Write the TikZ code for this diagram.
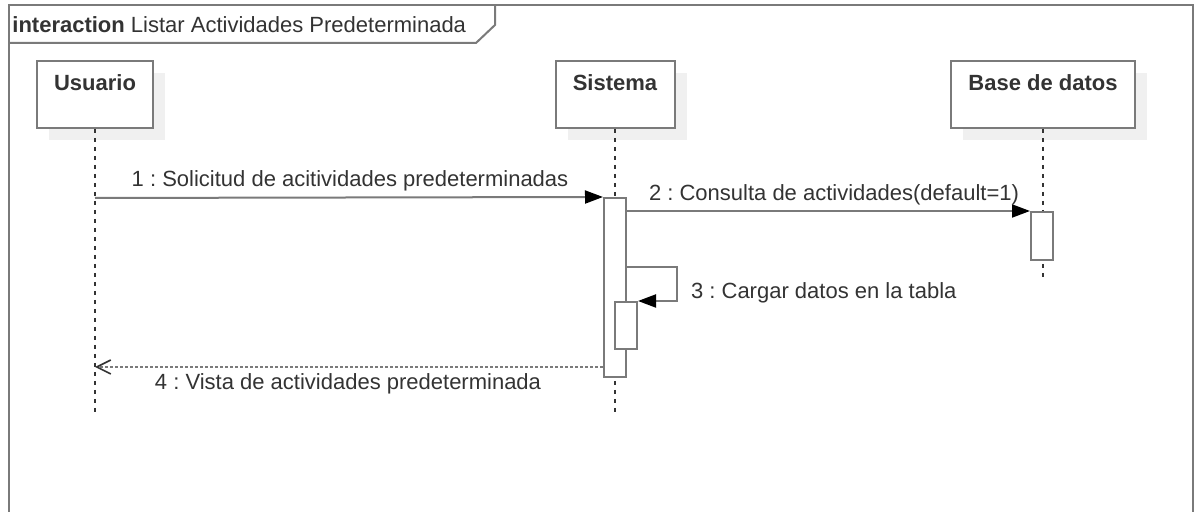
\documentclass[tikz,border=0pt]{standalone}
\usepackage{fontspec}
\setmainfont{Liberation Sans}
\usetikzlibrary{positioning, arrows.meta, shadows}
\frenchspacing

\definecolor{linegray}{HTML}{7A7A7A}
\definecolor{textgray}{HTML}{333333}
\definecolor{shadowgray}{HTML}{F0F0F0}

\begin{document}
\begin{tikzpicture}[
					x=0.5pt, y=-0.5pt,
					font=\fontsize{11}{13}\selectfont,
					every node/.style={text=textgray},
					lifehead/.style={draw=linegray, line width=1pt, fill=white, inner sep=0pt,
						minimum width=#1, text height=15pt, text depth=18.5pt, font=\fontsize{11}{13}\selectfont\bfseries,
						drop shadow={shadow xshift=6pt, shadow yshift=-6pt, fill=shadowgray, opacity=1}},
					act/.style={draw=linegray, line width=1pt, fill=white, inner sep=0pt, minimum width=11pt},
					lifeline/.style={draw=black!80, line width=0.7pt, dash pattern=on 2pt off 2.5pt},
					msg/.style={draw=linegray, line width=1pt, -{Triangle[length=9pt, width=6.5pt, fill=black, color=black]}},
					reply/.style={draw=linegray, line width=1pt, dash pattern=on 1.5pt off 1pt, -{Straight Barb[length=7pt, width=7pt, color=black!80, line width=0.8pt]}}
					]
					\useasboundingbox (0,0) rectangle (1196,512);
					
					% Frame
					\draw[linegray, line width=1pt] (9,512) -- (9,5) -- (1193,5) -- (1193,512);
					\draw[linegray, line width=1pt] (9,43) -- (476,43) -- (495,25) -- (495,5);
					\node[anchor=west, inner sep=0pt] (title) at (12,25) {\textbf{interaction} Listar Actividades Predeterminada};
					
					% Lifelines
					\node[lifehead=58pt] (Usuario) at (95,94.5) {Usuario};
					\node[lifehead=59.5pt] (Sistema) at (615,94.5) {Sistema};
					\node[lifehead=92pt] (BaseDatos) at (1043,94.5) {Base de datos};
					\coordinate (UsuarioEnd) at (95,415);
					\coordinate (SistemaEnd) at (615,415);
					\coordinate (BaseDatosEnd) at (1043,280);
					\draw[lifeline] (Usuario.south) -- (UsuarioEnd);
					\draw[lifeline] (Sistema.south) -- (SistemaEnd);
					\draw[lifeline] (BaseDatos.south) -- (BaseDatosEnd);
					
					% Activations
					\node[act, minimum height=89.5pt] (SistemaAct) at (615,287.5) {};
					\node[act, minimum height=24pt] (BaseDatosAct) at (1042,236) {};
					\node[act, minimum height=23.5pt] (CargarAct) at (626,325.5) {};
					
					% Messages
					\coordinate (m1) at (95,198);
					\coordinate (m3a) at (677,267);
					\coordinate (m4) at (95,367);
					\draw[msg] (m1) -- (SistemaAct.north west);
					\draw[msg] (SistemaAct.east |- BaseDatosAct.north) -- (BaseDatosAct.north west);
					\draw[msg] (SistemaAct.east |- m3a) -- (m3a) |- (CargarAct.north east);
					\draw[reply] (SistemaAct.west |- m4) -- (m4);
					
					% Message labels
					\node (l1) at (350,181) {1 : Solicitud de acitividades predeterminadas};
					\node (l2) at (834,195) {2 : Consulta de actividades(default=1)};
					\node[anchor=west] (l3) at (684,293) {3 : Cargar datos en la tabla};
					\node (l4) at (348,384) {4 : Vista de actividades predeterminada};
				\end{tikzpicture}
\end{document}
